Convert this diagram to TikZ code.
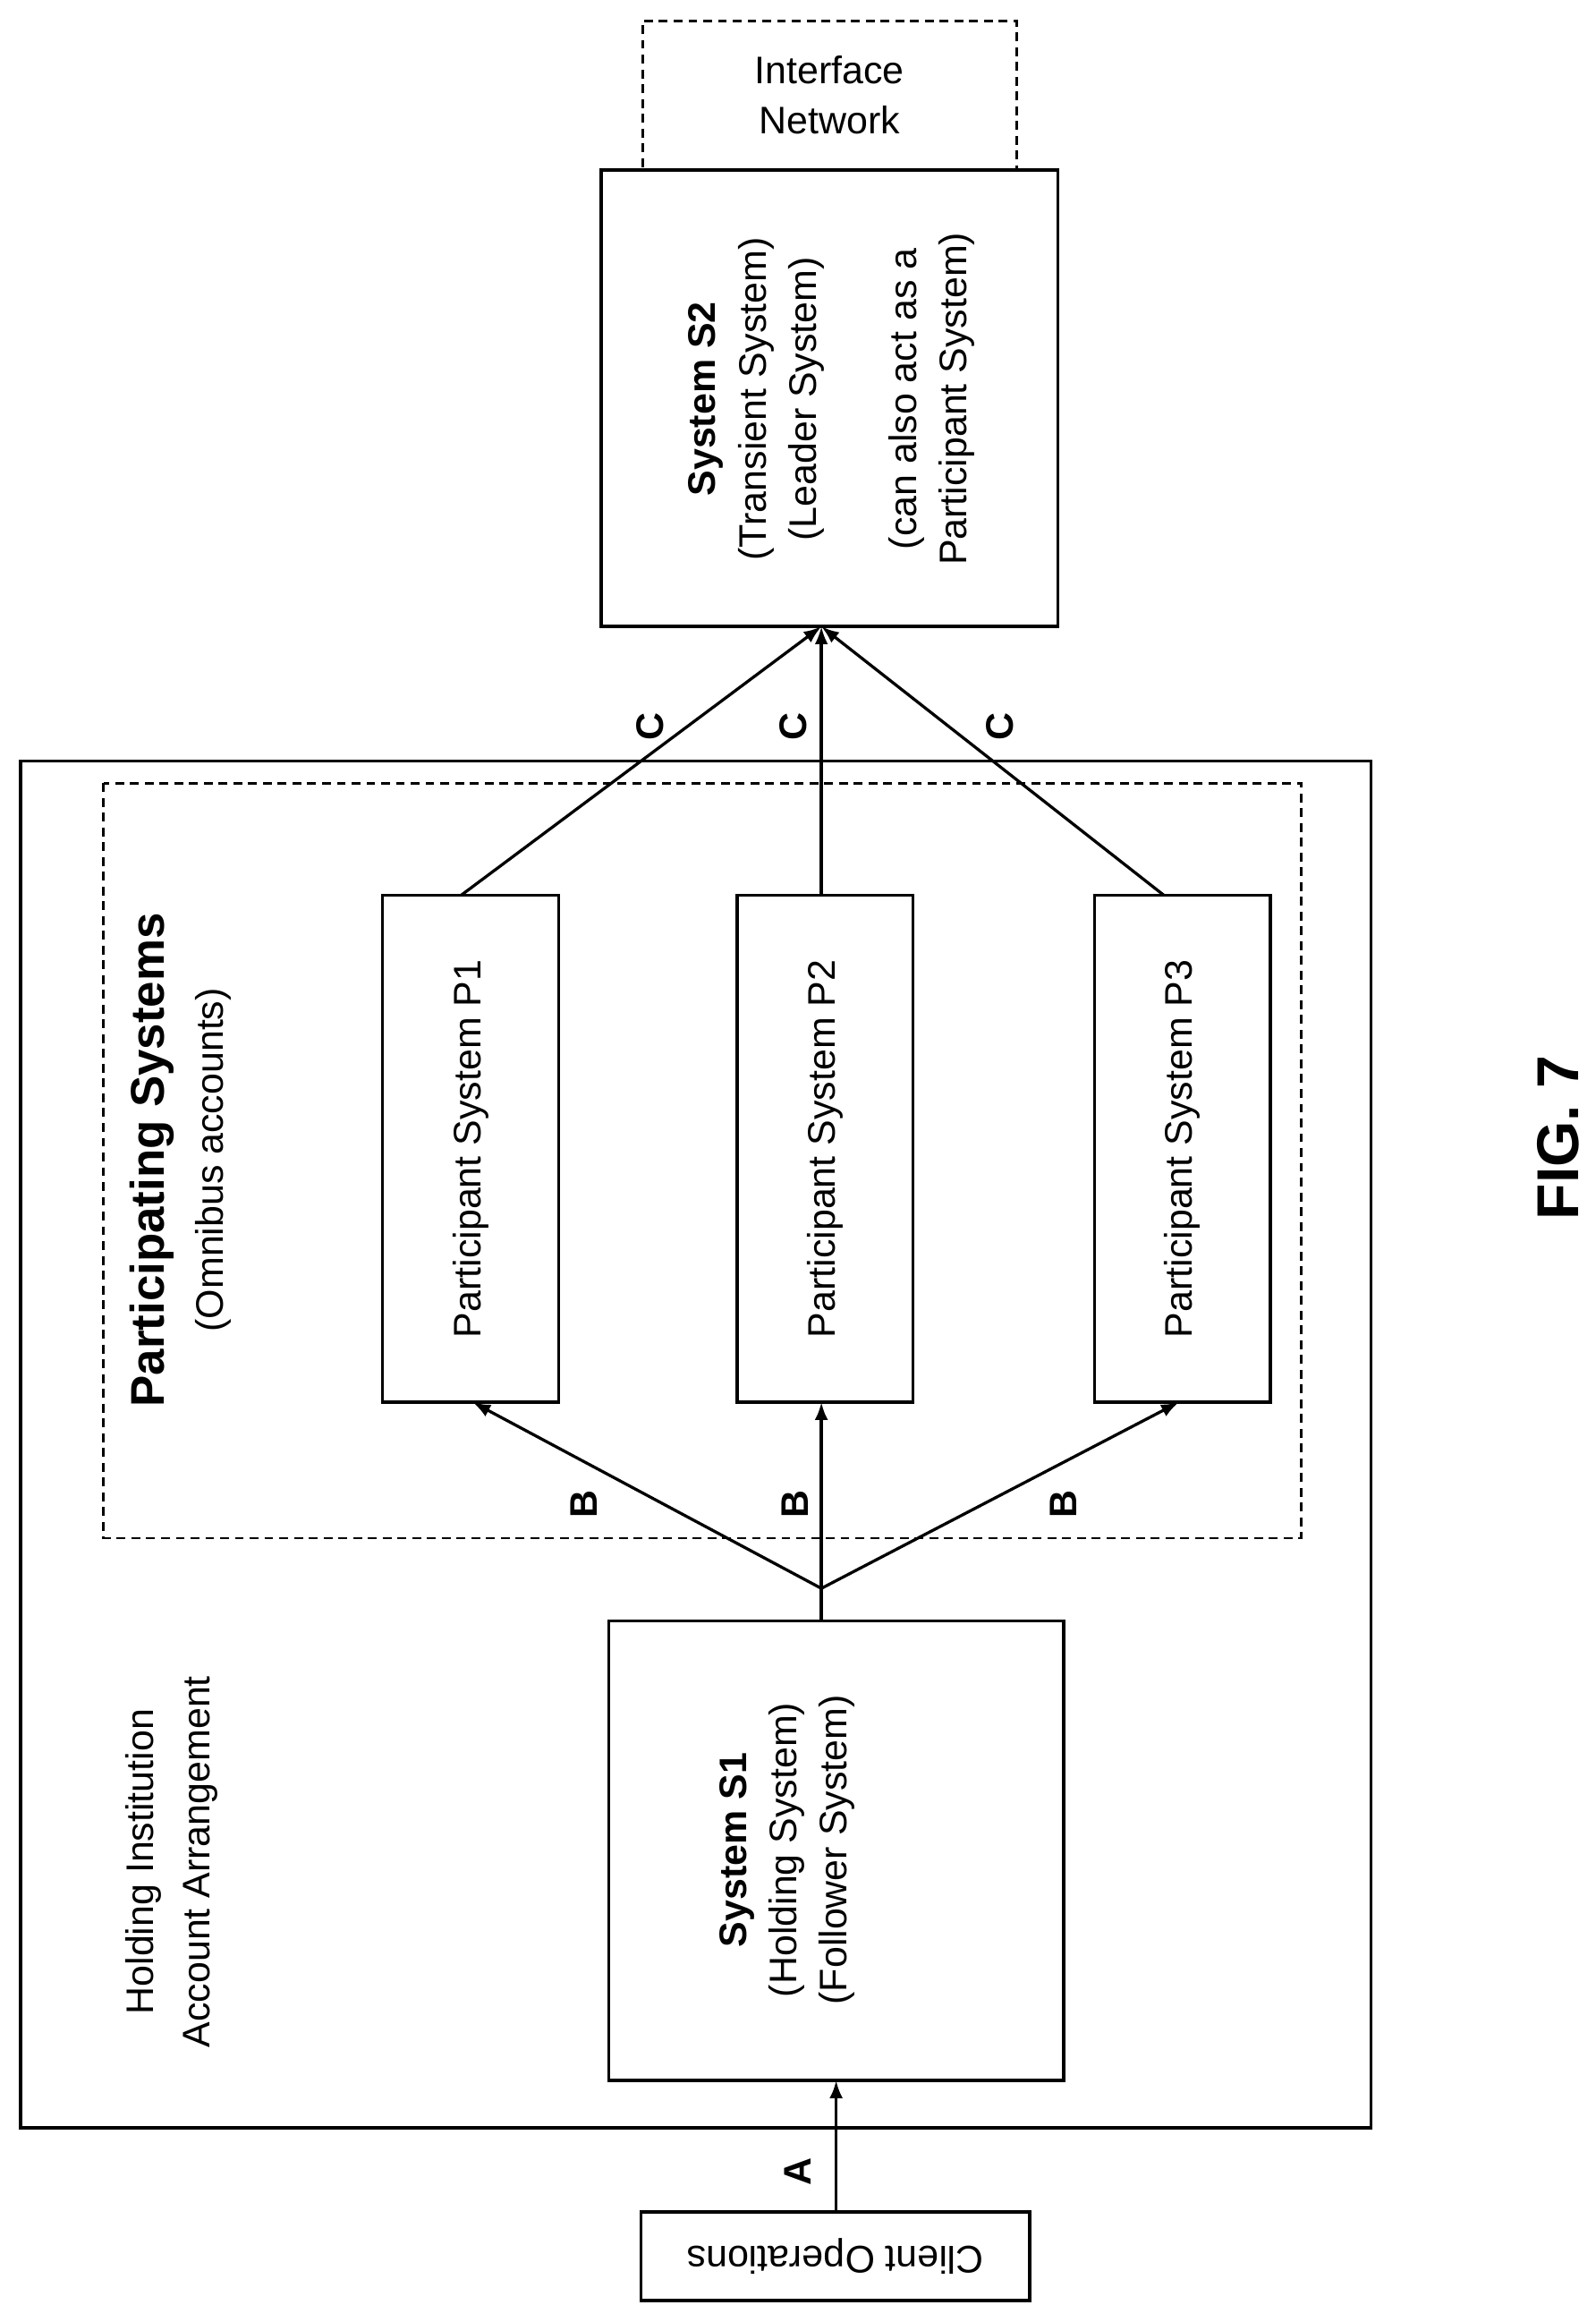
\documentclass[tikz,border=0pt]{standalone}
\usepackage{fontspec}
\setmainfont{Liberation Sans}
\usetikzlibrary{arrows.meta}
\begin{document}
\begin{tikzpicture}[x=1pt,y=-1pt,
  box/.style={draw,line width=2pt},
  dbox/.style={draw,line width=1.8pt,dash pattern=on 6pt off 4pt},
  txt/.style={font=\fontsize{26}{30}\selectfont,align=center,rotate=90},
  lbl/.style={font=\fontsize{26}{30}\selectfont\bfseries,rotate=90},
  conn/.style={line width=2pt},
  arr/.style={line width=2pt,-{Latex[length=12pt,width=9pt]}}]
\useasboundingbox (0,0) rectangle (1080,1560);
\draw[box] (14,515) rectangle (928,1440);
\draw[dbox] (70,530) rectangle (881,1041);
\node[dbox,minimum width=253pt,minimum height=101pt,font=\fontsize{26}{34}\selectfont,align=center] (iface) at (561.5,64.5) {Interface\\Network};
\node[box,minimum width=309pt,minimum height=309pt] (s2) at (561.5,269.5) {};
\node[txt,font=\fontsize{26}{34}\selectfont] at (563,270) {\textbf{System S2}\\(Transient System)\\(Leader System)\\[34pt](can also act as a\\Participant System)};
\node[box,minimum width=308pt,minimum height=311pt] (s1) at (566,1252.5) {};
\node[txt,font=\fontsize{26}{34}\selectfont] at (533,1252) {\textbf{System S1}\\(Holding System)\\(Follower System)};
\node[txt,font=\fontsize{26}{38}\selectfont] at (116,1260) {Holding Institution\\Account Arrangement};
\node[txt,font=\fontsize{26}{40}\selectfont] at (122,785) {{\fontsize{32}{40}\selectfont\bfseries Participating Systems}\\(Omnibus accounts)};
\node[box,minimum width=119pt,minimum height=343pt] (p1) at (318.5,777.5) {};
\node[txt] at (318.5,777.5) {Participant System P1};
\node[box,minimum width=119pt,minimum height=343pt] (p2) at (558.5,777.5) {};
\node[txt] at (558.5,777.5) {Participant System P2};
\node[box,minimum width=119pt,minimum height=343pt] (p3) at (800.5,777.5) {};
\node[txt] at (800.5,777.5) {Participant System P3};
\node[box,minimum width=263pt,minimum height=60pt,font=\fontsize{26}{30}\selectfont,rotate=180] (client) at (565.5,1527) {Client Operations};
\coordinate (j) at (556,1075);
\draw[conn] (556,1097) -- (j);
\draw[arr] (j) -- (320,949);
\draw[arr] (j) -- (556,949);
\draw[arr] (j) -- (798,949);
\coordinate (s2b) at (556,424);
\draw[arr] (312,606) -- (s2b);
\draw[arr] (556,606) -- (s2b);
\draw[arr] (788,606) -- (s2b);
\draw[arr] (566,1497) -- (566,1408);
\node[lbl] at (395,1018) {B};
\node[lbl] at (538,1018) {B};
\node[lbl] at (720,1018) {B};
\node[lbl] at (440,492) {C};
\node[lbl] at (537,492) {C};
\node[lbl] at (677,492) {C};
\node[lbl] at (540,1470) {A};
\node[font=\fontsize{40}{44}\selectfont\bfseries,rotate=90] at (1055,770) {FIG. 7};
\end{tikzpicture}
\end{document}
